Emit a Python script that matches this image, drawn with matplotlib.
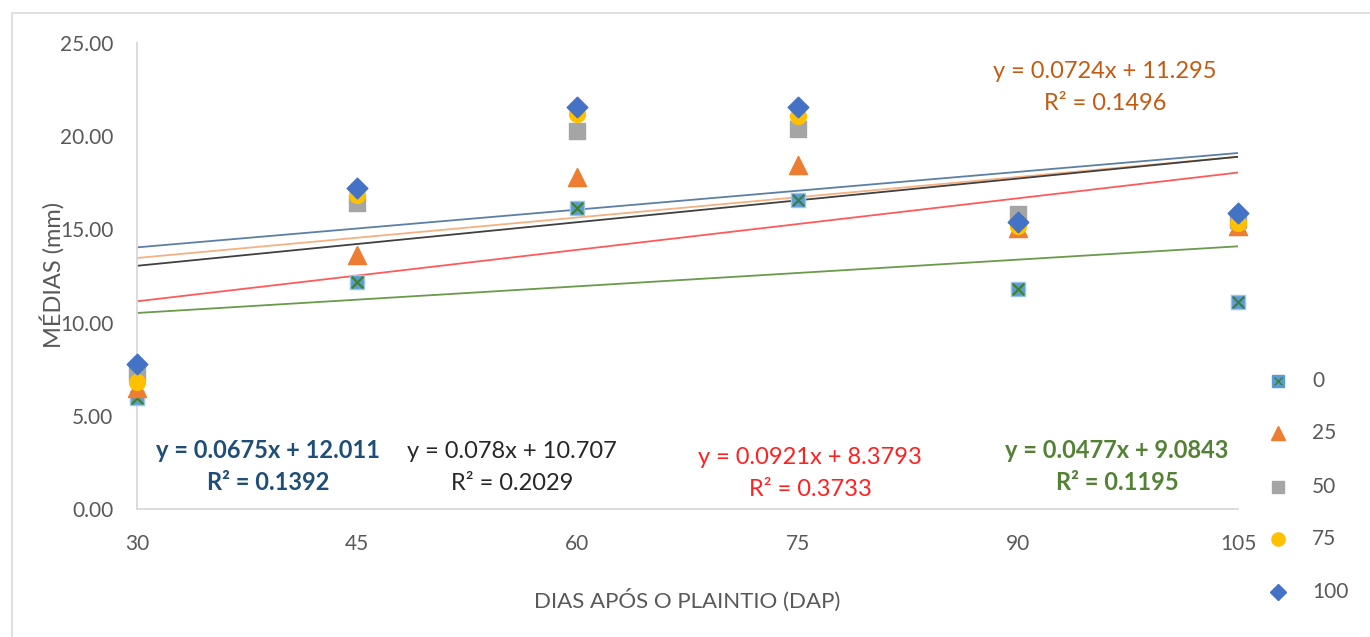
import numpy as np
import matplotlib.pyplot as plt
from matplotlib.patches import Rectangle

# dados
dias = [30, 45, 60, 75, 90, 105]
series_nomes = ['0', '25', '50', '75', '100']
s0 = [5.95, 12.2, 16.15, 16.6, 11.8, 11.1]
s25 = [6.5, 13.6, 17.8, 18.45, 15.1, 15.2]
s50 = [7.3, 16.4, 20.3, 20.4, 15.8, 15.5]
s75 = [6.8, 16.85, 21.2, 21.1, 15.2, 15.35]
s100 = [7.78, 17.2, 21.57, 21.57, 15.4, 15.9]

# linhas de tendência (equações mostradas no gráfico)
tend_a = [0.0675, 0.0724, 0.078, 0.0921, 0.0477]
tend_b = [12.011, 11.295, 10.707, 8.3793, 9.0843]
tend_r2 = [0.1392, 0.1496, 0.2029, 0.3733, 0.1195]

plt.rcParams['font.family'] = ['Lato', 'DejaVu Sans']

fig = plt.figure(figsize=(13.7, 6.37), dpi=100)
fig.patches.append(Rectangle((12 / 1370, -0.1), 1.2, 1 - 13 / 637 + 0.1,
                             transform=fig.transFigure, fill=False,
                             edgecolor='#D9D9D9', linewidth=1.2))
ax = fig.add_axes([137 / 1370, 1 - 509 / 637, (1238 - 137) / 1370, (509 - 43) / 637])

# linhas de tendência
cores_tend = ['#5B7FA6', '#F4B183', '#404040', '#FF5A5A', '#6A9A4A']
xs = np.array([30, 105])
for a, b, c in zip(tend_a, tend_b, cores_tend):
    ax.plot(xs, a * xs + b, color=c, linewidth=1.3, zorder=2)

# pontos
ax.scatter(dias, s0, marker='s', s=110, color='#5B9BD5', edgecolor='#9DC3E6', zorder=3, clip_on=False)
ax.scatter(dias, s0, marker='x', s=70, color='#3F7F2A', linewidth=1.5, zorder=3, clip_on=False)
ax.scatter(dias, s25, marker='^', s=170, color='#ED7D31', zorder=3, clip_on=False)
ax.scatter(dias, s50, marker='s', s=120, color='#A5A5A5', zorder=3, clip_on=False)
ax.scatter(dias, s75, marker='o', s=130, color='#FFC000', zorder=3, clip_on=False)
ax.scatter(dias, s100, marker='D', s=110, color='#4472C4', zorder=3, clip_on=False)

ax.set_xlim(30, 105)
ax.set_ylim(0, 25)
ax.set_xticks(dias)
ax.set_yticks([0, 5, 10, 15, 20, 25])
ax.set_yticklabels(['%.2f' % v for v in [0, 5, 10, 15, 20, 25]])
ax.tick_params(length=0, labelsize=15, colors='#595959', pad=17)
ax.tick_params(axis='x', pad=18)
for sp in ['top', 'right']:
    ax.spines[sp].set_visible(False)
for sp in ['left', 'bottom']:
    ax.spines[sp].set_color('#D9D9D9')
    ax.spines[sp].set_linewidth(1.3)

# títulos dos eixos
fig.text(52 / 1370, 1 - 275 / 637, 'MÉDIAS (mm)', fontsize=17, color='#595959',
         rotation=90, ha='center', va='center')
fig.text(687 / 1370, 1 - 600 / 637, 'DIAS APÓS O PLAINTIO (DAP)', fontsize=16,
         color='#595959', ha='center', va='center')

# equações
eq_pos = [(268, 450, '#1F4E79', 'bold'), (1105, 72, '#C55A11', 'normal'),
          (512, 452, '#262626', 'normal'), (810, 457, '#FF2020', 'normal'),
          (1117, 450, '#548235', 'bold')]
for a, b, r2, (px, py, c, w) in zip(tend_a, tend_b, tend_r2, eq_pos):
    fig.text(px / 1370, 1 - py / 637, 'y = %sx + %s' % (a, b), color=c,
             fontsize=17, fontweight=w, ha='center', va='center')
    fig.text(px / 1370, 1 - (py + 32) / 637, 'R² = %s' % r2, color=c,
             fontsize=17, fontweight=w, ha='center', va='center')

# legenda
leg_y = [381, 433, 487, 539, 592]
leg_sty = [('s', '#5B9BD5', 70), ('^', '#ED7D31', 110), ('s', '#A5A5A5', 70),
           ('o', '#FFC000', 90), ('D', '#4472C4', 70)]
for nome, ly, (m, c, s) in zip(series_nomes, leg_y, leg_sty):
    fy = 1 - ly / 637
    fig.add_artist(plt.Line2D([1278 / 1370], [fy], marker=m, markersize=np.sqrt(s),
                              color=c, linestyle='none', transform=fig.transFigure))
    if nome == '0':
        fig.add_artist(plt.Line2D([1278 / 1370], [fy], marker='x', markersize=6,
                                  color='#3F7F2A', linestyle='none', transform=fig.transFigure))
    fig.text(1312 / 1370, fy, nome, fontsize=15, color='#595959', va='center', ha='left')

fig.savefig('out.png', dpi=100)
